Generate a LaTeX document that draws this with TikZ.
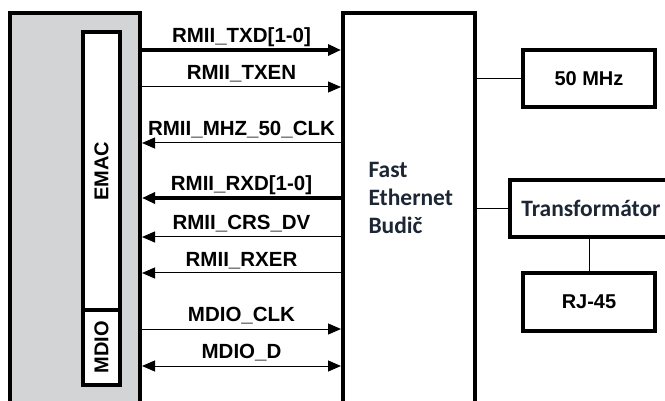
\documentclass[tikz,border=0pt]{standalone}
\usepackage{fontspec}
\setmainfont{Liberation Sans}
\newfontfamily\calfont{Carlito}
\usetikzlibrary{arrows.meta}
\definecolor{hostgray}{RGB}{211,212,214}
\definecolor{inktext}{RGB}{28,38,52}

\begin{document}
\begin{tikzpicture}[x=1pt,y=-1pt,
    box/.style={draw,line width=4pt},
    inbox/.style={draw,line width=3.5pt,fill=white,font=\fontsize{20}{24}\selectfont\bfseries},
    sig/.style={font=\fontsize{20.5}{24}\selectfont\bfseries,anchor=base,yshift=7pt},
    bus/.style={line width=4.5pt},
    wire/.style={line width=1pt},
    tipr/.style={-{Triangle[length=13pt,width=11pt]}},
    tipl/.style={{Triangle[length=13pt,width=11pt]}-},
    tipb/.style={{Triangle[length=13pt,width=11pt]}-{Triangle[length=13pt,width=11pt]}}]
\useasboundingbox (0,0) rectangle (665,401);
    % blocks
    \node[box,fill=hostgray,minimum width=130pt,minimum height=410pt] (host) at (75,218) {};
    \node[inbox,rotate=90,minimum width=278pt,minimum height=37pt] (emac) at (101.5,171) {EMAC};
    \node[inbox,rotate=90,minimum width=75pt,minimum height=37pt] (mdio) at (101.5,347.5) {MDIO};
    \node[box,fill=white,minimum width=132pt,minimum height=410pt] (phy) at (409,218) {};
    \node[anchor=west,align=left,text=inktext,font=\calfont\fontsize{23.5}{28}\selectfont\bfseries] (phytxt) at (365,198) {Fast\\Ethernet\\Budič};
    \node[box,minimum width=132pt,minimum height=57pt,font=\fontsize{20}{24}\selectfont\bfseries] (clk) at (589,78.5) {50 MHz};
    \node[box,minimum width=162pt,minimum height=57pt,text=inktext,font=\calfont\fontsize{23.5}{28}\selectfont\bfseries] (trafo) at (591,208.5) {Transformátor};
    \node[box,minimum width=132pt,minimum height=58pt,font=\fontsize{20}{24}\selectfont\bfseries] (rj) at (589,302) {RJ-45};
    % signals
    \draw[bus,tipr] (host.east |- 0,50) -- (phy.west |- 0,50) node[sig,midway] {RMII\_TXD[1-0]};
    \draw[wire,tipr] (host.east |- 0,87) -- (phy.west |- 0,87) node[sig,midway] {RMII\_TXEN};
    \draw[wire,tipl] (host.east |- 0,143) -- (phy.west |- 0,143) node[sig,midway] {RMII\_MHZ\_50\_CLK};
    \draw[bus,tipl] (host.east |- 0,198) -- (phy.west |- 0,198) node[sig,midway] {RMII\_RXD[1-0]};
    \draw[wire,tipl] (host.east |- 0,237) -- (phy.west |- 0,237) node[sig,midway] {RMII\_CRS\_DV};
    \draw[wire,tipl] (host.east |- 0,273) -- (phy.west |- 0,273) node[sig,midway] {RMII\_RXER};
    \draw[wire,tipr] (host.east |- 0,329) -- (phy.west |- 0,329) node[sig,midway] {MDIO\_CLK};
    \draw[wire,tipb] (host.east |- 0,366) -- (phy.west |- 0,366) node[sig,midway] {MDIO\_D};
    % links
    \draw[wire] (phy.east |- clk) -- (clk);
    \draw[wire] (phy.east |- trafo) -- (trafo);
    \draw[wire] (trafo.south -| rj) -- (rj);
\end{tikzpicture}
\end{document}
